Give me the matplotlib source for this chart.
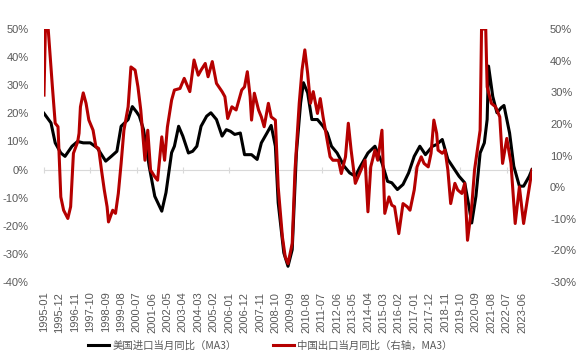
import numpy as np
import pandas as pd
import matplotlib
matplotlib.use("Agg")
import matplotlib.pyplot as plt

plt.rcParams["font.family"] = ["Liberation Sans", "Noto Sans CJK SC", "DejaVu Sans"]

# US imports, month-on-month YoY (MA3), left axis, %
us_dates = ["1995-01", "1995-06", "1995-09", "1996-01", "1996-04", "1996-09", "1997-01", "1997-05",
            "1997-10", "1998-03", "1998-09", "1999-01", "1999-05", "1999-08", "2000-01", "2000-04",
            "2000-07", "2000-09", "2000-12", "2001-04", "2001-08", "2002-01", "2002-04", "2002-08",
            "2002-10", "2003-01", "2003-04", "2003-08", "2003-11", "2004-02", "2004-05", "2004-09",
            "2004-12", "2005-04", "2005-08", "2005-11", "2006-02", "2006-05", "2006-09", "2006-12",
            "2007-05", "2007-09", "2007-12", "2008-04", "2008-07", "2008-10", "2008-12", "2009-04",
            "2009-07", "2009-10", "2010-01", "2010-04", "2010-06", "2010-09", "2010-12", "2011-04",
            "2011-08", "2011-11", "2012-02", "2012-06", "2012-11", "2013-03", "2013-07", "2013-10",
            "2014-04", "2014-09", "2015-02", "2015-06", "2015-09", "2016-01", "2016-05", "2016-09",
            "2017-01", "2017-05", "2017-09", "2018-02", "2018-05", "2018-09", "2019-01", "2019-05",
            "2019-09", "2020-01", "2020-04", "2020-06", "2020-09", "2020-12", "2021-03", "2021-05",
            "2021-06", "2021-09", "2021-12", "2022-03", "2022-05", "2022-09", "2022-12", "2023-04",
            "2023-07", "2023-11", "2024-01"]
us_vals = [20.0, 16.6, 9.5, 5.9, 4.7, 8.3, 10.0, 9.5,
           9.5, 7.7, 3.0, 4.7, 6.5, 15.4, 17.8, 22.4,
           20.5, 19.0, 14.2, 1.2, -9.5, -14.8, -8.2, 6.0,
           8.3, 15.4, 11.9, 5.9, 6.5, 8.3, 15.4, 19.0,
           20.2, 17.8, 11.9, 14.2, 13.6, 12.5, 13.0, 5.3,
           5.3, 3.6, 9.5, 13.0, 15.7, 8.3, -11.8, -29.6,
           -34.4, -28.5, 5.9, 23.7, 30.9, 27.3, 17.8, 17.8,
           15.4, 13.0, 8.3, 5.9, 1.2, -1.2, -2.4, 0.6,
           5.9, 8.3, 2.4, -4.2, -4.7, -7.1, -5.3, -1.2,
           4.7, 8.3, 5.3, 8.3, 8.9, 10.7, 3.6, 0.6,
           -2.4, -4.7, -13.0, -19.0, -9.5, 5.9, 9.5, 17.8,
           36.8, 26.0, 20.2, 22.0, 22.8, 13.0, 1.2, -5.9,
           -5.9, -2.4, 0.0]

# China exports, month-on-month YoY (MA3), right axis, % (clipped at 50 as shown)
cn_dates = ["1995-01", "1995-02", "1995-04", "1995-07", "1995-09", "1995-11", "1996-01", "1996-03",
            "1996-06", "1996-08", "1996-10", "1997-01", "1997-02", "1997-03", "1997-05", "1997-07",
            "1997-09", "1997-12", "1998-02", "1998-04", "1998-06", "1998-08", "1998-10", "1998-11",
            "1999-02", "1999-04", "1999-06", "1999-08", "1999-10", "2000-01", "2000-03", "2000-06",
            "2000-08", "2000-10", "2001-01", "2001-03", "2001-05", "2001-08", "2001-10", "2002-01",
            "2002-03", "2002-05", "2002-08", "2002-10", "2003-02", "2003-05", "2003-09", "2003-12",
            "2004-03", "2004-05", "2004-08", "2004-10", "2005-01", "2005-04", "2005-08", "2005-10",
            "2005-12", "2006-03", "2006-06", "2006-10", "2006-12", "2007-02", "2007-04", "2007-05",
            "2007-07", "2007-10", "2007-12", "2008-02", "2008-05", "2008-07", "2008-10", "2008-12",
            "2009-03", "2009-05", "2009-07", "2009-10", "2009-12", "2010-03", "2010-05", "2010-07",
            "2010-09", "2010-11", "2011-01", "2011-04", "2011-06", "2011-08", "2012-01", "2012-03",
            "2012-07", "2012-09", "2012-12", "2013-02", "2013-04", "2013-07", "2013-09", "2013-12",
            "2014-02", "2014-04", "2014-06", "2014-09", "2014-11", "2015-02", "2015-04", "2015-07",
            "2015-09", "2015-11", "2016-02", "2016-05", "2016-08", "2016-10", "2017-01", "2017-03",
            "2017-06", "2017-08", "2017-11", "2018-01", "2018-03", "2018-05", "2018-06", "2018-09",
            "2018-11", "2019-01", "2019-03", "2019-06", "2019-08", "2019-11", "2020-01", "2020-03",
            "2020-06", "2020-08", "2020-12", "2021-01", "2021-04", "2021-05", "2021-08", "2021-11",
            "2022-02", "2022-04", "2022-07", "2022-10", "2023-01", "2023-04", "2023-07", "2023-10",
            "2024-01"]
cn_vals = [29.1, 50.0, 50.0, 31.7, 20.2, 19.1, -3.1, -7.3,
           -9.9, -6.2, 10.7, 14.3, 17.0, 25.4, 29.8, 26.5,
           21.2, 18.0, 12.8, 12.2, 5.4, -0.9, -6.2, -11.0,
           -7.3, -8.3, -2.0, 7.5, 18.0, 25.4, 38.0, 37.0,
           31.7, 24.4, 8.5, 18.0, 5.4, 3.3, 2.2, 15.9,
           8.5, 19.0, 27.5, 30.7, 31.2, 34.4, 30.2, 40.2,
           35.4, 37.0, 39.1, 34.9, 39.7, 32.8, 30.2, 28.6,
           21.7, 25.4, 24.4, 30.7, 31.7, 36.5, 28.6, 21.2,
           29.7, 24.4, 22.2, 19.1, 26.5, 22.2, 21.2, 0.1,
           -15.7, -22.0, -24.2, -17.8, 5.4, 26.5, 37.0, 43.4,
           36.0, 26.5, 30.2, 23.3, 28.0, 22.2, 9.6, 8.5,
           8.5, 4.3, 9.6, 20.2, 11.7, 1.2, 3.3, 6.4,
           8.5, -7.8, 6.4, 11.7, 8.5, 18.0, -8.3, -3.1,
           -5.7, -6.2, -14.7, -5.2, -6.2, -7.3, -0.9, 6.4,
           9.6, 7.5, 6.4, 10.7, 21.2, 17.0, 11.7, 10.7,
           11.7, 5.4, -5.2, 1.2, -0.9, -2.0, 1.2, -16.8,
           -6.2, 5.4, 18.0, 50.0, 50.0, 31.7, 26.5, 25.4,
           22.2, 7.5, 15.4, 7.5, -11.5, 0.1, -11.5, -3.1,
           5.4]

tick_labels = [p.strftime("%Y-%m") for p in pd.period_range("1995-01", periods=32, freq="11M")]
legend_labels = ["美国进口当月同比（MA3）", "中国出口当月同比（右轴，MA3）"]


def month_index(dates):
    d = pd.to_datetime(dates)
    return (d.year - 1995) * 12 + d.month - 1


GREY = "#595959"
BLACK = "#000000"
RED = "#B50000"

fig = plt.figure(figsize=(5.88, 3.63), dpi=100)
ax = fig.add_axes([0.0748, 0.2231, 0.830, 0.697])
ax2 = ax.twinx()

l1, = ax.plot(month_index(us_dates), us_vals, color=BLACK, lw=2.2, zorder=3)
l2, = ax2.plot(month_index(cn_dates), cn_vals, color=RED, lw=2.2, zorder=3)

ax.set_xlim(0, 348)
ax.set_ylim(-40, 50)
ax2.set_ylim(-30, 50)
ax.set_yticks(np.arange(-40, 51, 10))
ax2.set_yticks(np.arange(-30, 51, 10))
ax.set_yticklabels([f"{v}%" for v in range(-40, 51, 10)])
ax2.set_yticklabels([f"{v}%" for v in range(-30, 51, 10)])

ax.set_xticks(np.arange(0, 342, 11))
ax.set_xticklabels(tick_labels, rotation=90)

for a in (ax, ax2):
    for s in a.spines.values():
        s.set_visible(False)
ax.tick_params(axis="y", length=0, pad=11, labelsize=8, labelcolor=GREY)
ax2.tick_params(axis="y", length=0, pad=13, labelsize=8, labelcolor=GREY)
ax.tick_params(axis="x", length=0, pad=7, labelsize=8, labelcolor=GREY)

# zero line with its own tick marks
zero = ax.secondary_xaxis(40 / 90)
zero.spines["bottom"].set_color("#D9D9D9")
zero.set_xticks(np.arange(0, 342, 33))
zero.tick_params(axis="x", direction="inout", length=4, color="#D9D9D9", labelbottom=False)

fig.legend([l1, l2], legend_labels, loc="center", bbox_to_anchor=(0.46, 0.047), ncol=2,
           frameon=False, labelcolor=GREY, handlelength=2.0, handletextpad=0.3,
           columnspacing=3.5, prop={"family": ["Noto Sans CJK SC", "DejaVu Sans"], "size": 7.5})

fig.savefig("out.png", dpi=100)
